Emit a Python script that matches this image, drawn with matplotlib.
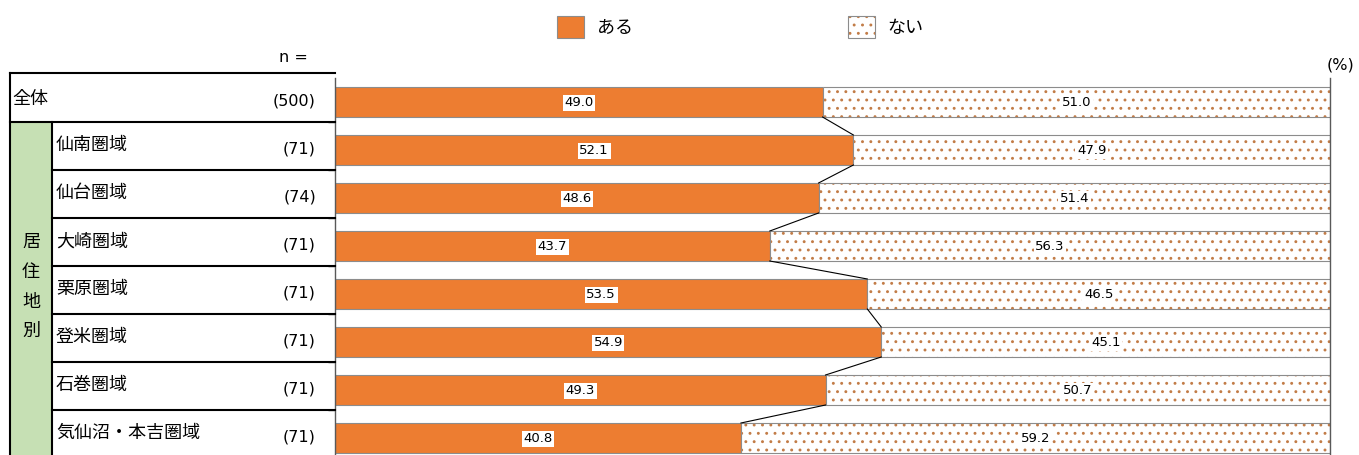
import matplotlib.pyplot as plt
from matplotlib.patches import Patch, Rectangle

plt.rcParams['font.family'] = ['Noto Sans CJK JP', 'DejaVu Sans']
plt.rcParams['hatch.linewidth'] = 0.9

# data
categories = ['全体', '仙南圏域', '仙台圏域', '大崎圏域', '栗原圏域',
              '登米圏域', '石巻圏域', '気仙沼・本吉圏域']
n_values = [500, 71, 74, 71, 71, 71, 71, 71]
aru = [49.0, 52.1, 48.6, 43.7, 53.5, 54.9, 49.3, 40.8]
nai = [51.0, 47.9, 51.4, 56.3, 46.5, 45.1, 50.7, 59.2]
group_label = '居住地別'
legend_labels = ['ある', 'ない']

orange = '#ED7D31'
dot_color = '#C27C47'
edge_gray = '#8C8C8C'
green = '#C6E0B4'
num_font = 'DejaVu Sans'
jp_size = 13

W, H = 1359, 455
fig = plt.figure(figsize=(W / 100, H / 100), dpi=100)

# main bar axes (extends a little below the figure, as in the original crop)
ax_top, ax_bot = 78, 462
ax = fig.add_axes([335 / W, 1 - ax_bot / H, 995 / W, (ax_bot - ax_top) / H])
y = list(range(len(categories)))
bh = 0.625

ax.barh(y, aru, height=bh, color=orange, edgecolor=edge_gray, linewidth=0.8)
ax.barh(y, nai, left=aru, height=bh, color='white', edgecolor=dot_color,
        linewidth=0, hatch='..')
ax.barh(y, nai, left=aru, height=bh, fill=False, edgecolor=edge_gray,
        linewidth=0.8)

box = dict(boxstyle='square,pad=0.12', fc='white', ec='none')
for i in y:
    ax.text(aru[i] / 2, i + 0.02, f'{aru[i]:.1f}', ha='center', va='center',
            fontsize=9.5, family=num_font, bbox=box)
    ax.text(aru[i] + nai[i] / 2, i + 0.02, f'{nai[i]:.1f}', ha='center',
            va='center', fontsize=9.5, family=num_font, bbox=box)

# connector lines between the ends of the orange segments
for i in y[:-1]:
    ax.plot([aru[i], aru[i + 1]], [i + bh / 2, i + 1 - bh / 2],
            color='black', linewidth=0.8)

ax.set_xlim(0, 100)
ax.set_ylim(len(categories) - 0.5, -0.5)
ax.set_xticks([])
bounds = [i + 0.42 for i in y[:-1]]
ax.set_yticks(bounds)
ax.set_yticklabels([])
ax.tick_params(axis='y', direction='out', length=5, color='#404040', width=1)
for s in ['top', 'bottom']:
    ax.spines[s].set_visible(False)
for s in ['left', 'right']:
    ax.spines[s].set_color('#595959')
    ax.spines[s].set_linewidth(1)

# left-hand table (x in pixels, y shared with the bars)
tb = fig.add_axes([0, 1 - ax_bot / H, 335 / W, (ax_bot - ax_top) / H], sharey=ax)
tb.set_xlim(0, 335)
tb.axis('off')
row_lines = [-0.6] + bounds
tb.add_patch(Rectangle((10, row_lines[1]), 42, 10, facecolor=green,
                       edgecolor='none', clip_on=False))
lk = dict(color='black', linewidth=1.5, clip_on=False)
tb.plot([10, 335], [row_lines[0]] * 2, **lk)
tb.plot([10, 335], [row_lines[1]] * 2, **lk)
for b in row_lines[2:]:
    tb.plot([52, 335], [b, b], **lk)
tb.plot([10, 10], [row_lines[0], 8], **lk)
tb.plot([52, 52], [row_lines[1], 8], **lk)

tb.text(12, -0.06, categories[0], ha='left', va='center', fontsize=jp_size,
        clip_on=False)
for i in y[1:]:
    tb.text(56, i - 0.1, categories[i], ha='left', va='center', fontsize=jp_size)
for i in y:
    tb.text(316, i - 0.02, f'({n_values[i]})', ha='right', va='center',
            fontsize=11.5, family=num_font, clip_on=False)
tb.text(31, 3.85, '\n'.join(group_label), ha='center', va='center',
        fontsize=jp_size, linespacing=1.83)

fig.text(293 / W, 1 - 58 / H, 'n =', ha='center', va='center', fontsize=11.5,
         family=num_font)
fig.text(1340 / W, 1 - 65 / H, '(%)', ha='center', va='center', fontsize=11.5,
         family=num_font)

handles = [Patch(facecolor=orange, edgecolor=edge_gray, linewidth=0.8),
           (Patch(facecolor='white', edgecolor=dot_color, hatch='..', linewidth=0),
            Patch(fill=False, edgecolor=edge_gray, linewidth=0.8))]
fig.legend(handles, legend_labels, loc='center left',
           bbox_to_anchor=(557 / W, 1 - 27 / H), ncol=2, frameon=False,
           fontsize=jp_size, handlelength=1.5, handleheight=1.5,
           handletextpad=0.7, columnspacing=11.9, borderaxespad=0, borderpad=0)

fig.savefig('out.png', dpi=100)
